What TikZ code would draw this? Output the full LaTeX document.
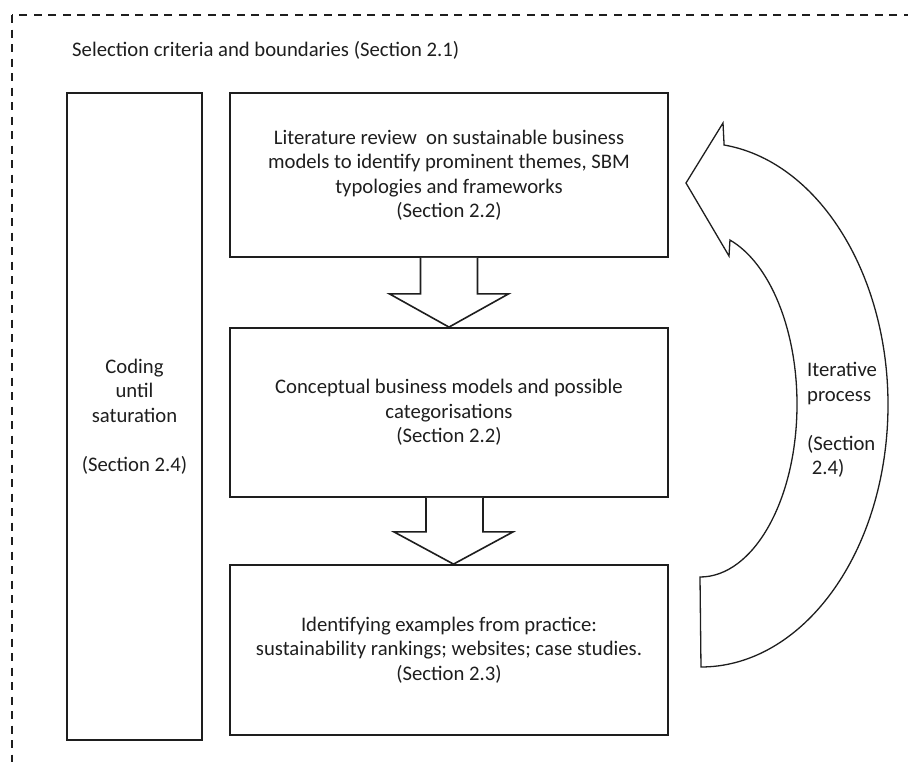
\documentclass[tikz,border=0pt]{standalone}
\usepackage{fontspec}
\setmainfont{Carlito}
\usetikzlibrary{calc}
\definecolor{ink}{HTML}{1E1E1E}
\begin{document}
\begin{tikzpicture}[x=1pt,y=-1pt,
  every node/.style={font=\fontsize{20.7}{24.5}\selectfont, text=ink},
  box/.style={draw=ink, line width=1.8pt, inner sep=0pt, align=center},
  blockarrow/.style={draw=ink, line width=1.6pt, fill=white, line join=miter},
  curvedarrow/.style={draw=ink, line width=1.3pt, fill=white, line join=miter},
  frame/.style={draw=ink, line width=1.6pt, dash pattern=on 8pt off 6.5pt}
]
\useasboundingbox (0,0) rectangle (908,761);
\begin{scope}
  \clip (0,0) rectangle (908,761);
  \draw[frame] (12,15) rectangle (960,800);
\end{scope}

\node[anchor=west, inner sep=0pt] (title) at (72,50) {Selection criteria and boundaries (Section 2.1)};

\node[box, minimum width=135pt, minimum height=647pt] (left) at (134.5,416.5)
  {Coding\\until\\saturation\\[24.5pt](Section 2.4)};

\node[box, minimum width=438pt, minimum height=164pt] (b1) at (449,175)
  {Literature review~ on sustainable business\\models to identify prominent themes, SBM\\typologies and frameworks\\(Section 2.2)};
\node[box, minimum width=438pt, minimum height=169pt] (b2) at (449,412.5)
  {Conceptual business models and possible\\categorisations\\(Section 2.2)};
\node[box, minimum width=438pt, minimum height=170pt] (b3) at (449,650)
  {Identifying examples from practice:\\sustainability rankings; websites; case studies.\\(Section 2.3)};

% block arrows between boxes
\draw[blockarrow] ($(b1.south)+(-28.5,0)$) -- ($(b1.south)+(-28.5,36)$) -- ($(b1.south)+(-59.5,36)$)
  -- (b2.north) -- ($(b1.south)+(59.5,36)$) -- ($(b1.south)+(28.5,36)$) -- ($(b1.south)+(28.5,0)$);
\draw[blockarrow] ($(b2.south)+(-23,0)$) -- ($(b2.south)+(-23,34)$) -- ($(b2.south)+(-55,34)$)
  -- ($(b3.north)+(4.5,0)$) -- ($(b2.south)+(64,34)$) -- ($(b2.south)+(34,34)$) -- ($(b2.south)+(34,0)$);

% curved iterative arrow
\draw[curvedarrow] (686,183) -- (723,123) -- (724.1,145)
  arc[start angle=-82.9, end angle=90, x radius=187, y radius=262]
  -- (700,577)
  arc[start angle=90, end angle=-72, x radius=97, y radius=172.7]
  -- (729,256) -- cycle;

\node[anchor=west, inner sep=0pt, align=left] (iter) at (807,420)
  {Iterative\\process\\[24.5pt](Section\\\ 2.4)};
\end{tikzpicture}
\end{document}
